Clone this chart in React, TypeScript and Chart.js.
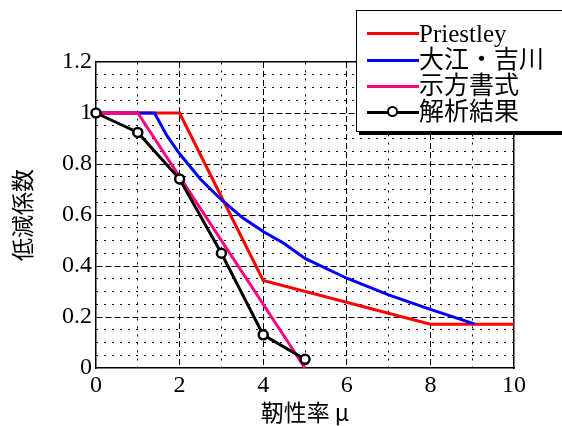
import React, { useEffect, useRef } from "react";
import { Chart, registerables } from "chart.js";

Chart.register(...registerables);

const priestleyX = [0, 2, 4, 8, 10];
const priestleyY = [1, 1, 0.343, 0.172, 0.172];

const oeX = [0, 1.4, 1.7, 2, 2.5, 3, 3.5, 4, 4.5, 5, 6, 7, 8, 9.05];
const oeY = [1, 1, 0.91, 0.84, 0.74, 0.66, 0.59, 0.535, 0.488, 0.43, 0.352, 0.287, 0.23, 0.173];

const specX = [0, 1, 5];
const specY = [1, 1, 0];

const analysisX = [0, 1, 2, 3, 4, 5];
const analysisY = [1, 0.924, 0.741, 0.45, 0.13, 0.034];

const seriesNames = ["Priestley", "大江・吉川", "示方書式", "解析結果"];
const seriesColors = ["#ff0000", "#0000ff", "#ff0080", "#000000"];

const xTitle = "靭性率 μ";
const yTitle = "低減係数";

const serif = '"Liberation Serif", "Times New Roman", "Noto Sans CJK JP", serif';
const sans = '"Noto Sans CJK JP", "Noto Sans", sans-serif';

const toPts = (xs: number[], ys: number[]) => xs.map((x, i) => ({ x, y: ys[i] }));

const isMult = (v: number, step: number) => Math.abs(v / step - Math.round(v / step)) < 1e-6;

export default function App() {
  const ref = useRef<HTMLCanvasElement | null>(null);

  useEffect(() => {
    if (!ref.current) return;
    const chart = new Chart(ref.current, {
      type: "line",
      data: {
        datasets: [
          {
            label: seriesNames[3],
            data: toPts(analysisX, analysisY),
            borderColor: seriesColors[3],
            backgroundColor: "#ffffff",
            borderWidth: 3,
            pointRadius: 4.5,
            pointBorderWidth: 2.5,
            pointBackgroundColor: "#ffffff",
            pointBorderColor: "#000000",
            tension: 0,
            order: 0,
            clip: false as any,
          },
          {
            label: seriesNames[2],
            data: toPts(specX, specY),
            borderColor: seriesColors[2],
            borderWidth: 3,
            pointRadius: 0,
            tension: 0,
            order: 1,
            clip: false as any,
          },
          {
            label: seriesNames[1],
            data: toPts(oeX, oeY),
            borderColor: seriesColors[1],
            borderWidth: 3,
            pointRadius: 0,
            tension: 0,
            order: 2,
            clip: false as any,
          },
          {
            label: seriesNames[0],
            data: toPts(priestleyX, priestleyY),
            borderColor: seriesColors[0],
            borderWidth: 3,
            pointRadius: 0,
            tension: 0,
            order: 3,
            clip: false as any,
          },
        ],
      },
      options: {
        responsive: false,
        animation: false,
        devicePixelRatio: 1,
        layout: { padding: { left: 0, right: 48, top: 62, bottom: 0 } },
        plugins: {
          legend: { display: false },
          tooltip: { enabled: false },
        },
        scales: {
          x2: {
            type: "linear",
            position: "top",
            min: 0,
            max: 10,
            ticks: { display: false, stepSize: 1 },
            grid: {
              drawTicks: false,
              lineWidth: 1,
              color: (c: any) => (c.tick && isMult(c.tick.value, 2) ? "rgba(0,0,0,0)" : "#000000"),
            },
            border: { display: true, color: "#000000", width: 1.5, dash: [2, 6] },
            afterFit: (s: any) => {
              s.height = 0;
            },
          },
          y2: {
            type: "linear",
            position: "right",
            min: 0,
            max: 1.2,
            ticks: { display: false, stepSize: 0.05 },
            grid: {
              drawTicks: false,
              lineWidth: 1,
              color: (c: any) => (c.tick && isMult(c.tick.value, 0.2) ? "rgba(0,0,0,0)" : "#000000"),
            },
            border: { display: true, color: "#000000", width: 1.5, dash: [2, 6] },
            afterFit: (s: any) => {
              s.width = 0;
            },
          },
          x: {
            type: "linear",
            position: "bottom",
            min: 0,
            max: 10,
            ticks: {
              stepSize: 2,
              color: "#000000",
              padding: 3,
              font: { family: serif, size: 24 },
              callback: (v: any) => String(Math.round(Number(v))),
            },
            grid: {
              drawTicks: false,
              lineWidth: 1,
              color: (c: any) =>
                c.tick && (c.tick.value === 0 || c.tick.value === 10) ? "rgba(0,0,0,0)" : "#000000",
            },
            border: { display: true, color: "#000000", width: 1.5, dash: [6, 3] },
            title: {
              display: true,
              text: xTitle,
              color: "#000000",
              font: { family: sans, size: 23, lineHeight: 1 },
              padding: { top: 0, bottom: 2 },
            },
            afterFit: (s: any) => {
              s.height = 58;
            },
          },
          y: {
            type: "linear",
            position: "left",
            min: 0,
            max: 1.2,
            ticks: {
              stepSize: 0.2,
              color: "#000000",
              padding: 4,
              font: { family: serif, size: 24 },
              callback: (v: any) => String(Number(Number(v).toFixed(1))),
            },
            grid: {
              drawTicks: false,
              lineWidth: 1,
              color: (c: any) =>
                c.tick && (isMult(c.tick.value, 1.2) || c.tick.value === 0) && (c.tick.value === 0 || Math.abs(c.tick.value - 1.2) < 1e-6)
                  ? "rgba(0,0,0,0)"
                  : "#000000",
            },
            border: { display: true, color: "#000000", width: 1.5, dash: [6, 3] },
            title: {
              display: true,
              text: yTitle,
              color: "#000000",
              font: { family: sans, size: 23, lineHeight: 1 },
              padding: { top: 11, bottom: 0 },
            },
            afterFit: (s: any) => {
              s.width = 96;
            },
          },
        },
      } as any,
    });
    return () => chart.destroy();
  }, []);

  const rowCenters = [33.5, 60, 86, 112];

  return (
    <div
      style={{
        position: "fixed",
        left: 0,
        top: 0,
        width: 562,
        height: 426,
        overflow: "hidden",
        background: "#ffffff",
      }}
    >
      <canvas ref={ref} width={562} height={426} style={{ width: 562, height: 426, display: "block" }} />
      <div
        style={{
          position: "absolute",
          left: 356,
          top: 10,
          width: 260,
          height: 120,
          border: "1.5px solid #000",
          background: "#ffffff",
          boxShadow: "3px 3px 0 #000",
        }}
      />
      {seriesNames.map((name, i) => (
        <div
          key={name}
          style={{
            position: "absolute",
            left: 367,
            top: rowCenters[i] - 14,
            height: 28,
            display: "flex",
            alignItems: "center",
            whiteSpace: "nowrap",
          }}
        >
          <div style={{ position: "relative", width: 52, height: 12 }}>
            <div
              style={{
                position: "absolute",
                left: 0,
                top: 4.5,
                width: 52,
                height: 3,
                background: seriesColors[i],
              }}
            />
            {i === 3 ? (
              <div
                style={{
                  position: "absolute",
                  left: 26 - 6,
                  top: 0,
                  width: 7,
                  height: 7,
                  borderRadius: "50%",
                  border: "2.5px solid #000",
                  background: "#fff",
                }}
              />
            ) : null}
          </div>
          <span
            style={{
              fontFamily: serif,
              fontSize: 25,
              lineHeight: "28px",
              color: "#000",
              letterSpacing: 0,
            }}
          >
            {name}
          </span>
        </div>
      ))}
    </div>
  );
}
